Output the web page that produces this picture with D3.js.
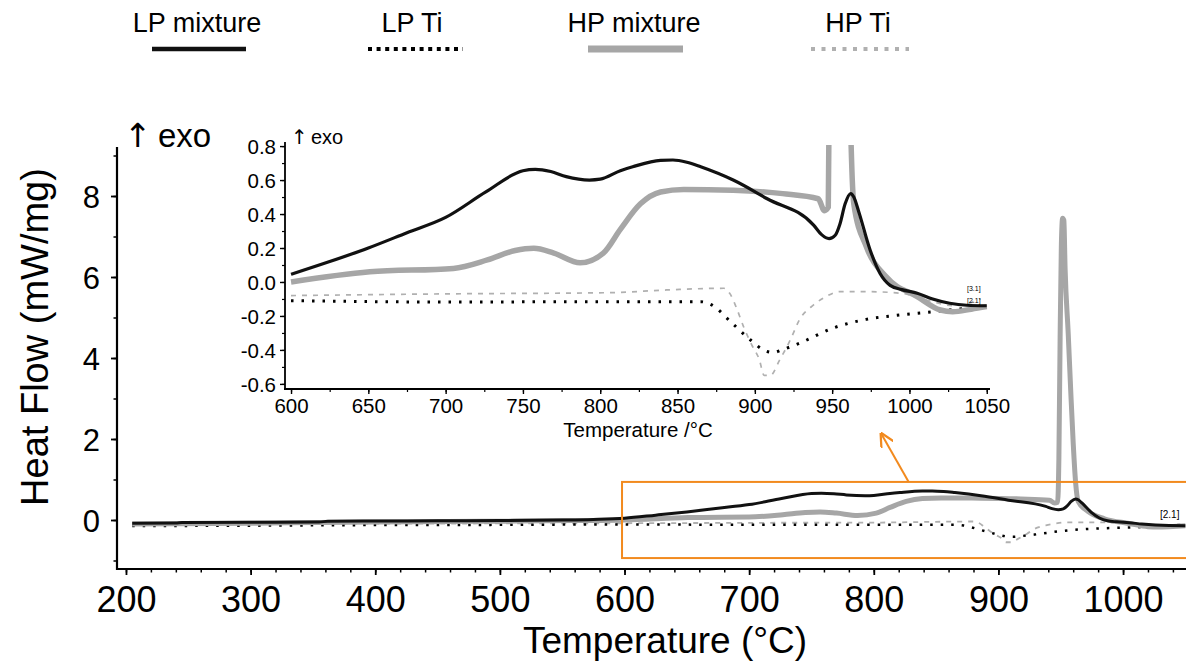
<!DOCTYPE html>
<html>
<head>
<meta charset="utf-8">
<script src="https://cdn.jsdelivr.net/npm/d3@7"></script>
<style>
  html, body { margin: 0; padding: 0; background: #fff; }
  svg { display: block; }
  text { font-family: "Liberation Sans", Arial, "Helvetica", sans-serif; fill: #000; }
</style>
</head>
<body>
<svg id="chart" width="1186" height="663"></svg>
<script>
// ---------------- DATA ----------------
const seriesNames = ["LP mixture", "LP Ti", "HP mixture", "HP Ti"];

const lpMixT = [205, 240, 245, 300, 355, 362, 400, 450, 500, 550, 575, 600, 625, 650, 675, 700, 726, 750, 758, 768, 778, 793, 800, 813, 821, 839, 847, 856, 865, 886, 908, 938, 943, 948, 952, 955, 958.4, 962, 964, 967, 974.5, 981, 987.5, 995, 1005, 1015, 1026, 1037, 1050];
const lpMixV = [-0.08, -0.075, -0.06, -0.055, -0.05, -0.03, -0.025, -0.02, -0.015, 0.0, 0.015, 0.045, 0.12, 0.2, 0.29, 0.38, 0.53, 0.655, 0.663, 0.65, 0.62, 0.60, 0.605, 0.655, 0.678, 0.716, 0.718, 0.705, 0.678, 0.60, 0.49, 0.335, 0.28, 0.255, 0.275, 0.34, 0.46, 0.52, 0.5, 0.42, 0.19, 0.05, -0.02, -0.045, -0.066, -0.1, -0.125, -0.137, -0.14];

const lpTiT = [205, 300, 400, 500, 600, 700, 800, 865, 872, 885, 897, 905.5, 912, 917.4, 929, 951, 972, 994, 1015, 1037, 1050];
const lpTiV = [-0.15, -0.14, -0.125, -0.12, -0.11, -0.118, -0.116, -0.116, -0.135, -0.24, -0.34, -0.40, -0.415, -0.40, -0.36, -0.27, -0.22, -0.194, -0.175, -0.155, -0.145];

const hpMixT = [205, 300, 400, 500, 560, 600, 651, 705, 727, 745, 757, 770, 787, 802, 813, 826, 839, 854, 886, 918, 941, 945, 947.5, 948.5, 949.5, 950.5, 951.5, 952.5, 953.5, 956, 958, 960, 962, 964, 972, 985, 1005, 1020, 1028, 1040, 1050];
const hpMixV = [-0.1, -0.08, -0.05, -0.03, -0.015, 0.0, 0.06, 0.08, 0.13, 0.185, 0.198, 0.17, 0.113, 0.17, 0.31, 0.46, 0.53, 0.545, 0.54, 0.52, 0.49, 0.42, 0.44, 1.5, 4.5, 6.8, 7.45, 7.4, 6.2, 4.6, 3.2, 1.9, 0.9, 0.46, 0.21, 0.03, -0.086, -0.165, -0.175, -0.16, -0.145];

const hpTiT = [205, 300, 400, 500, 600, 700, 806, 843, 880, 884, 888, 893, 898, 903, 906, 910, 916, 923, 929, 938, 946, 955, 972, 994, 1015, 1028, 1040, 1046];
const hpTiV = [-0.12, -0.1, -0.09, -0.085, -0.08, -0.07, -0.063, -0.047, -0.037, -0.07, -0.15, -0.27, -0.37, -0.46, -0.55, -0.55, -0.46, -0.34, -0.22, -0.135, -0.086, -0.057, -0.057, -0.066, -0.116, -0.14, -0.12, -0.1];

const mainXTicks = [200, 300, 400, 500, 600, 700, 800, 900, 1000];
const mainYTicks = [0, 2, 4, 6, 8];
const insetXTicks = [600, 650, 700, 750, 800, 850, 900, 950, 1000, 1050];
const insetYTicks = [-0.6, -0.4, -0.2, 0.0, 0.2, 0.4, 0.6, 0.8];

// ---------------- SETUP ----------------
const svg = d3.select("#chart");
const FONT = '"Liberation Sans", Arial, sans-serif';

const series = [
  { name: "HP Ti", T: hpTiT, V: hpTiV, color: "#b0b0b0", mainW: 1.8, insetW: 1.7, dash: "5,6", legW: 4, legDash: "4,6.5" },
  { name: "LP Ti", T: lpTiT, V: lpTiV, color: "#000", mainW: 2.5, insetW: 3, dash: "2.5,8", legW: 4, legDash: "4,4.6" },
  { name: "HP mixture", T: hpMixT, V: hpMixV, color: "#a6a6a6", mainW: 5, insetW: 5.5, dash: null, legW: 7, legDash: null },
  { name: "LP mixture", T: lpMixT, V: lpMixV, color: "#111", mainW: 3, insetW: 3.2, dash: null, legW: 4.5, legDash: null }
];

function exoLabel(sel, xArrow, xText, y, size) {
  const t = sel.append("text").attr("y", y).style("font-size", size + "px");
  t.append("tspan").attr("x", xArrow).style("font-family", '"DejaVu Sans", sans-serif').text("↑");
  t.append("tspan").attr("x", xText).text("exo");
}

// ---------------- MAIN CHART ----------------
const mx = d3.scaleLinear().domain([192.8, 1050.5]).range([117, 1186]);
const my = d3.scaleLinear().domain([-1.21, 9.21]).range([569, 147]);

svg.append("clipPath").attr("id", "mainClip").append("rect")
  .attr("x", 117).attr("y", 140).attr("width", 1069).attr("height", 429);

const mainG = svg.append("g").attr("clip-path", "url(#mainClip)");
const mainLine = d3.line().x(d => mx(d[0])).y(d => my(d[1])).curve(d3.curveMonotoneX);

series.forEach(s => {
  mainG.append("path")
    .datum(d3.zip(s.T, s.V))
    .attr("d", mainLine)
    .attr("fill", "none")
    .attr("stroke", s.color)
    .attr("stroke-width", s.mainW)
    .attr("stroke-linejoin", "round")
    .attr("stroke-dasharray", s.dash);
});

// main x axis
const mxAxis = svg.append("g").attr("transform", "translate(0,569)");
mxAxis.call(d3.axisBottom(mx).tickValues(d3.range(200, 1051, 20)).tickSize(3.5).tickFormat("").tickSizeOuter(0))
  .call(g => g.select(".domain").remove());
mxAxis.call(g => g.selectAll("line").attr("stroke-width", 1.5));
const mxMajor = svg.append("g").attr("transform", "translate(0,569)");
mxMajor.call(d3.axisBottom(mx).tickValues(mainXTicks).tickSize(6).tickSizeOuter(0).tickFormat(d3.format("d")));
mxMajor.select(".domain").remove();
mxMajor.selectAll("line").attr("stroke-width", 1.8);
mxMajor.selectAll("text").attr("y", 43).attr("dy", 0)
  .style("font-family", FONT).style("font-size", "36px").attr("fill", "#000");
svg.append("line").attr("x1", 116).attr("x2", 1186).attr("y1", 569).attr("y2", 569)
  .attr("stroke", "#000").attr("stroke-width", 2.2);

// main y axis
const myMinor = svg.append("g").attr("transform", "translate(117,0)");
myMinor.call(d3.axisLeft(my).tickValues(d3.range(-1, 9.1, 1)).tickSize(3.5).tickFormat("").tickSizeOuter(0));
myMinor.select(".domain").remove();
myMinor.selectAll("line").attr("stroke-width", 1.5);
const myMajor = svg.append("g").attr("transform", "translate(117,0)");
myMajor.call(d3.axisLeft(my).tickValues(mainYTicks).tickSize(6).tickSizeOuter(0).tickFormat(d3.format("d")));
myMajor.select(".domain").remove();
myMajor.selectAll("line").attr("stroke-width", 1.8);
myMajor.selectAll("text").attr("x", -17).attr("dy", "0.36em")
  .style("font-family", FONT).style("font-size", "31px").attr("fill", "#000");
svg.append("line").attr("x1", 117).attr("x2", 117).attr("y1", 147).attr("y2", 570)
  .attr("stroke", "#000").attr("stroke-width", 2.2);

// axis titles
svg.append("text").attr("x", 665).attr("y", 653).attr("text-anchor", "middle")
  .style("font-size", "37px").text("Temperature (°C)");
svg.append("text").attr("transform", "translate(48,337) rotate(-90)").attr("text-anchor", "middle")
  .style("font-size", "38px").text("Heat Flow (mW/mg)");
exoLabel(svg, 124, 158, 147, 33);

// small curve label
svg.append("text").attr("x", 1160).attr("y", 518).style("font-size", "10px").attr("fill", "#444").text("[2.1]");

// orange zoom box & arrow
const orange = "#f28a1e";
svg.append("rect")
  .attr("x", mx(598)).attr("y", my(0.94))
  .attr("width", 1186 - mx(598) + 10).attr("height", my(-0.94) - my(0.94))
  .attr("fill", "none").attr("stroke", orange).attr("stroke-width", 2);
svg.append("defs").append("marker").attr("id", "arr")
  .attr("viewBox", "0 0 10 10").attr("refX", 9).attr("refY", 5)
  .attr("markerWidth", 7).attr("markerHeight", 7).attr("orient", "auto-start-reverse")
  .append("path").attr("d", "M0,0 L10,5 L0,10").attr("fill", "none").attr("stroke", orange).attr("stroke-width", 1.6);
svg.append("line")
  .attr("x1", mx(828)).attr("y1", my(0.94))
  .attr("x2", mx(806)).attr("y2", my(2.13))
  .attr("stroke", orange).attr("stroke-width", 2).attr("marker-end", "url(#arr)");

// ---------------- INSET ----------------
const ix = d3.scaleLinear().domain([596.1, 1052.1]).range([285, 990]);
const iy = d3.scaleLinear().domain([-0.63, 0.824]).range([389, 142]);

svg.append("clipPath").attr("id", "insetClip").append("rect")
  .attr("x", 285).attr("y", 145).attr("width", 705).attr("height", 244);
const insetG = svg.append("g").attr("clip-path", "url(#insetClip)");
const insetLine = d3.line().x(d => ix(d[0])).y(d => iy(d[1])).curve(d3.curveMonotoneX);

series.forEach(s => {
  const pts = d3.zip(s.T, s.V).filter(d => d[0] >= 590);
  insetG.append("path")
    .datum(pts)
    .attr("d", insetLine)
    .attr("fill", "none")
    .attr("stroke", s.color)
    .attr("stroke-width", s.insetW)
    .attr("stroke-linejoin", "round")
    .attr("stroke-dasharray", s.dash);
});

// inset axes
const ixMinor = svg.append("g").attr("transform", "translate(0,389)");
ixMinor.call(d3.axisBottom(ix).tickValues(d3.range(600, 1051, 25)).tickSize(3).tickFormat("").tickSizeOuter(0));
ixMinor.select(".domain").remove();
ixMinor.selectAll("line").attr("stroke-width", 1.2);
const ixMajor = svg.append("g").attr("transform", "translate(0,389)");
ixMajor.call(d3.axisBottom(ix).tickValues(insetXTicks).tickSize(5).tickSizeOuter(0).tickFormat(d3.format("d")));
ixMajor.select(".domain").remove();
ixMajor.selectAll("line").attr("stroke-width", 1.4);
ixMajor.selectAll("text").attr("y", 24).attr("dy", 0)
  .style("font-family", FONT).style("font-size", "20.5px").attr("fill", "#000");
svg.append("line").attr("x1", 284).attr("x2", 990).attr("y1", 389).attr("y2", 389)
  .attr("stroke", "#000").attr("stroke-width", 1.8);

const iyMinor = svg.append("g").attr("transform", "translate(285,0)");
iyMinor.call(d3.axisLeft(iy).tickValues(d3.range(-6, 9, 1).map(d => d / 10)).tickSize(3).tickFormat("").tickSizeOuter(0));
iyMinor.select(".domain").remove();
iyMinor.selectAll("line").attr("stroke-width", 1.2);
const iyMajor = svg.append("g").attr("transform", "translate(285,0)");
iyMajor.call(d3.axisLeft(iy).tickValues(insetYTicks).tickSize(5).tickSizeOuter(0).tickFormat(d3.format(".1f")));
iyMajor.select(".domain").remove();
iyMajor.selectAll("line").attr("stroke-width", 1.4);
iyMajor.selectAll("text").attr("x", -9).attr("dy", "0.36em")
  .text(d => d3.format(".1f")(d).replace("−", "-"))
  .style("font-family", FONT).style("font-size", "20.5px").attr("fill", "#000");
svg.append("line").attr("x1", 285).attr("x2", 285).attr("y1", 142).attr("y2", 390)
  .attr("stroke", "#000").attr("stroke-width", 1.8);

svg.append("text").attr("x", 638).attr("y", 437).attr("text-anchor", "middle")
  .style("font-size", "20.5px").text("Temperature /°C");
exoLabel(svg, 291, 311, 144, 20);
svg.append("text").attr("x", 967).attr("y", 291).style("font-size", "7px").attr("fill", "#aaa").text("[3.1]");
svg.append("text").attr("x", 967).attr("y", 303).style("font-size", "7px").attr("fill", "#222").text("[2.1]");

// ---------------- LEGEND ----------------
const legend = [
  { name: "LP mixture", cx: 197, x1: 152, x2: 246 },
  { name: "LP Ti", cx: 412, x1: 368, x2: 463 },
  { name: "HP mixture", cx: 634, x1: 588, x2: 683 },
  { name: "HP Ti", cx: 858, x1: 811, x2: 909 }
];
const legG = svg.append("g");
legend.forEach(l => {
  const s = series.find(d => d.name === l.name);
  legG.append("text").attr("x", l.cx).attr("y", 32).attr("text-anchor", "middle")
    .style("font-size", "27px").text(l.name);
  legG.append("line").attr("x1", l.x1).attr("x2", l.x2).attr("y1", 49).attr("y2", 49)
    .attr("stroke", s.color).attr("stroke-width", s.legW).attr("stroke-dasharray", s.legDash);
});
</script>
</body>
</html>
